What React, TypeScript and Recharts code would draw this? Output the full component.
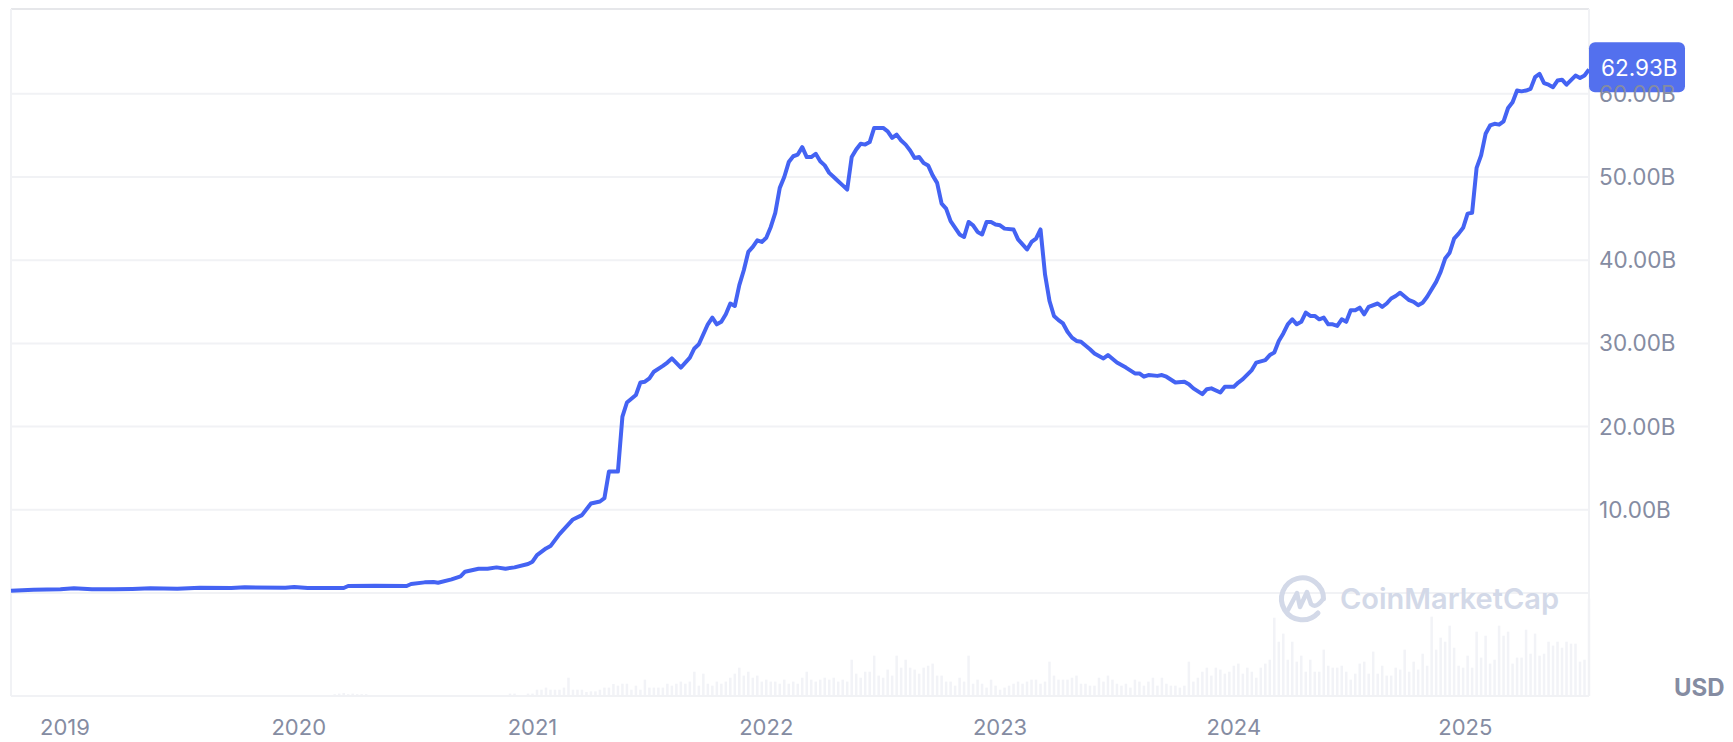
import { ComposedChart, Line, Bar, XAxis, YAxis, CartesianGrid, ReferenceLine, ReferenceDot } from "recharts"

// x values are weeks counted from the left edge of the chart (Oct 2018)
const priceWeeks = [
  0, 5, 11, 14, 18, 23, 27, 31, 37, 42, 49, 52, 61, 63, 66, 74, 75, 81, 88, 89, 92, 94, 95, 98, 100,
  101, 104, 106, 108, 110, 112, 115, 116, 117, 119, 120, 122, 125, 127, 129, 131, 132, 133, 135, 136, 137, 139,
  140, 141, 142, 143, 145, 146, 147, 149, 150, 151, 152, 153, 155, 156, 157, 158, 159, 160, 161, 162, 163, 164,
  165, 166, 167, 168, 169, 170, 171, 172, 173, 174, 175, 176, 177, 178, 179, 180, 181, 182, 183, 184, 185, 186, 187, 188, 189,
  190, 191, 192, 194, 195, 196, 197, 198, 199, 200, 201, 202, 203, 204, 205, 206, 207, 208, 209, 211, 212, 213,
  214, 215, 216, 217, 218, 219, 220, 221, 223, 224, 226, 227, 228, 229, 230, 231, 232, 233, 234, 235, 236, 237,
  238, 240, 241, 243, 244, 246, 248, 250, 251, 252, 253, 255, 256, 257, 259, 261, 262, 263, 265, 266, 267, 269,
  270, 272, 273, 274, 276, 277, 279, 280, 281, 282, 283, 284, 285, 286, 287, 288, 289, 290, 291, 292, 293, 294,
  295, 296, 297, 298, 299, 300, 301, 302, 304, 305, 306, 307, 308, 309, 311, 312, 313, 314, 315, 317, 318, 319,
  320, 321, 322, 323, 324, 325, 326, 327, 328, 329, 330, 331, 332, 333, 334, 335, 336, 337, 338, 339, 340, 341,
  342, 343, 344, 345, 346, 348, 349, 350, 351,
]
const priceValues = [
  0.28, 0.4, 0.44, 0.56, 0.44, 0.44, 0.48, 0.56, 0.52, 0.64, 0.6, 0.68, 0.64, 0.72, 0.6, 0.6, 0.84, 0.88, 0.84, 1.08, 1.28, 1.32, 1.24, 1.64, 2.0,
  2.56, 2.92, 2.92, 3.08, 2.92, 3.08, 3.48, 3.76, 4.56, 5.36, 5.64, 7.08, 8.84, 9.36, 10.76, 11.0, 11.4, 14.6, 14.6, 21.2, 22.9, 23.8,
  25.3, 25.4, 25.8, 26.6, 27.3, 27.7, 28.2, 27.1, 27.7, 28.3, 29.4, 29.9, 32.3, 33.1, 32.3, 32.6, 33.5, 34.8, 34.5, 37, 38.8, 41,
  41.6, 42.4, 42.2, 42.7, 44, 45.7, 48.7, 50, 51.8, 52.5, 52.7, 53.6, 52.4, 52.4, 52.8, 51.9, 51.4, 50.5, 50, 49.5, 49, 48.5, 52.4, 53.3, 54,
  53.9, 54.2, 55.9, 55.9, 55.5, 54.7, 55.1, 54.4, 53.9, 53.2, 52.3, 52.4, 51.7, 51.4, 50.2, 49.3, 46.8, 46.2, 44.7, 43.1, 42.8, 44.6,
  44.2, 43.4, 43.1, 44.6, 44.6, 44.3, 44.2, 43.8, 43.7, 42.5, 41.3, 42.2, 42.6, 43.7, 38.3, 35.1, 33.3, 32.8, 32.4, 31.4, 30.7, 30.3,
  30.2, 29.3, 28.8, 28.2, 28.6, 27.7, 27.1, 26.4, 26.4, 26, 26.2, 26.1, 26.2, 26, 25.3, 25.4, 25.1, 24.6, 23.9, 24.5, 24.6, 24.1,
  24.8, 24.8, 25.3, 25.7, 26.8, 27.7, 28, 28.6, 28.9, 30.3, 31.2, 32.3, 32.9, 32.3, 32.6, 33.7, 33.3, 33.3, 32.9, 33.1, 32.3, 32.3,
  32.1, 32.9, 32.6, 34, 34, 34.3, 33.5, 34.4, 34.8, 34.4, 34.8, 35.4, 35.7, 36.1, 35.2, 35, 34.6, 34.9, 35.6, 37.4, 38.6, 40.2,
  40.9, 42.6, 43.2, 43.9, 45.6, 45.7, 51.1, 52.6, 55.2, 56.2, 56.4, 56.3, 56.7, 58.3, 59, 60.4, 60.3, 60.4, 60.6, 62, 62.4, 61.3,
  61.1, 60.8, 61.6, 61.7, 61.1, 62.2, 61.9, 62.2, 62.93,
]

const earlyVolumeWeeks = [72, 73, 74, 75, 76, 77, 78, 79]
const earlyVolumes = [1.2, 1.6, 2.0, 1.2, 1.6, 1.2, 1.2, 1.2]

const firstVolumeWeek = 111
const volumes = [
  1.6, 1.6, 0, 0, 1.6, 1.6, 4.2, 4.2, 5.6, 4.2, 4.2, 4.2, 5.6, 12.2, 4.2, 4.2, 4.2, 2.7, 3.1, 3.1, 4.2, 5.6, 5.6, 8, 6.9, 8.2, 8.2, 4.2, 6.9, 4.2,
  10.9, 5.6, 5.6, 5.6, 5.6, 8.2, 6.9, 8.2, 9.6, 8.2, 9.6, 16.2, 6.9, 14.9, 8.2, 6.9, 9.6, 8.2, 9.6, 12.2, 14.9, 18.9, 13.6, 16.2, 12.2, 13.6, 9.6, 10.9, 9.6, 9.6,
  8.2, 10.9, 8.2, 9.6, 8.2, 12.2, 16.2, 10.9, 9.6, 10.9, 12.2, 10.9, 12.2, 9.6, 10.9, 9.6, 24.2, 14.9, 12.2, 16.2, 16.2, 26.9, 13.6, 12.2, 17.6, 13.6, 26.9, 18.9, 24.2, 18.9,
  17.6, 14.9, 18.9, 20.2, 21.6, 13.6, 13.6, 9.6, 9.6, 6.9, 12.2, 9.6, 26.9, 8.2, 10.9, 8.2, 5.6, 10.9, 6.9, 4.2, 5.6, 6.9, 8.2, 9.6, 8.2, 9.6, 10.9, 10.9, 8.2, 9.6,
  22.9, 13.6, 10.9, 10.9, 10.9, 12.2, 13.6, 8.2, 8.2, 6.9,
  6.9, 12.2, 9.6, 13.6, 10.9, 8.2, 6.9, 8.2, 5.6, 10.9, 9.6, 6.9, 9.6, 12.2, 6.9, 12.2, 8.2, 6.9, 6.9, 5.6, 6.9, 22.9, 9.6, 12.2, 16.2, 18.9, 13.6, 18.9, 17.6, 14.9,
  16.2, 20.2, 21.6, 14.9, 18.9, 16.2, 12.2, 18.9, 21.6, 24.2, 52.2, 36.2, 41.6, 24.2, 36.2, 22.9, 26.9, 16.2, 24.2, 16.2, 16.2, 30.9, 20.2, 18.9, 18.9, 20.2, 16.2, 10.9, 14.9, 21.6,
  22.9, 14.9, 29.6, 14.9, 20.2, 13.6, 13.6, 18.9, 17.6, 30.9, 16.2, 22.9, 17.6, 28.2, 20.2, 52.9, 30.9, 38.9, 36.2, 46.9, 32.2, 20.2, 18.9, 26.9, 18.9, 42.9, 25.6, 40.2, 21.6,
  24.2, 46.9, 40.2, 42.9, 21.6, 25.6, 25.6, 44.2, 28.2, 41.6, 26.9, 28.2, 36.2, 33.6, 36.2, 32.2, 36.2, 34.9, 34.9, 22.9, 24.2, 24.2,
]
// the newest, still running week stands out at the right edge
const lastVolume = 65

const priceTicks = [0, 10, 20, 30, 40, 50, 60]
const yearTicks = [12, 64, 116, 168, 220, 272, 323.5]
const yearLabels = ["2019", "2020", "2021", "2022", "2023", "2024", "2025"]
const lastPrice = "62.93B"

const FONT = "Inter, sans-serif"
const LABEL = "#858CA2"
const GRID = "#F1F2F5"

const rows: any[] = []
for (let week = 0; week <= 351; week++) {
  const p = priceWeeks.indexOf(week)
  const e = earlyVolumeWeeks.indexOf(week)
  const v = week === 351 ? lastVolume : volumes[week - firstVolumeWeek]
  rows.push({
    week,
    price: p >= 0 ? priceValues[p] : null,
    volume: e >= 0 ? earlyVolumes[e] : v ?? null,
  })
}

function PriceTag(props: any) {
  return (
    <g>
      <rect x={props.cx} y={props.cy - 25} width={96} height={50} rx={6} fill="#5370EE" />
      <text x={props.cx + 12} y={props.cy + 8.5} fontFamily={FONT} fontSize={22.5} fill="#fff">
        {lastPrice}
      </text>
    </g>
  )
}

function Watermark() {
  return (
    <div style={{ position: "absolute", left: 1276, top: 573, width: 300, height: 52 }}>
      <svg width={52} height={52} style={{ position: "absolute", left: 0, top: 0 }}>
        <path d="M 42 40 A 21 21 0 1 1 47.5 26" fill="none" stroke="#D3D9E8" strokeWidth={5} strokeLinecap="round" />
        <path
          d="M 12 37 L 21 20 L 24 34 L 31 19 L 35 31 Q 40 36 47 26"
          fill="none"
          stroke="#D3D9E8"
          strokeWidth={4.5}
          strokeLinejoin="round"
          strokeLinecap="round"
        />
      </svg>
      <div
        style={{
          position: "absolute",
          left: 64,
          top: 7,
          fontFamily: FONT,
          fontWeight: 600,
          fontSize: 29,
          lineHeight: "38px",
          color: "#D3D9E8",
          whiteSpace: "nowrap",
        }}
      >
        CoinMarketCap
      </div>
    </div>
  )
}

export default function App() {
  return (
    <div style={{ position: "absolute", left: 0, top: 0, width: 1733, height: 742, background: "#fff", overflow: "hidden" }}>
      <ComposedChart width={1733} height={742} data={rows} margin={{ top: 9, right: 0, bottom: 0, left: 11 }}>
        <CartesianGrid yAxisId="price" vertical={false} stroke={GRID} strokeWidth={2} />
        <XAxis
          dataKey="week"
          type="number"
          domain={[0, 351]}
          ticks={yearTicks}
          tickFormatter={(w) => yearLabels[yearTicks.indexOf(w)]}
          height={46}
          tickLine={false}
          axisLine={{ stroke: GRID, strokeWidth: 2 }}
          tickMargin={17}
          interval={0}
          tick={{ fill: LABEL, fontSize: 22, fontFamily: FONT }}
        />
        <YAxis
          yAxisId="price"
          orientation="right"
          width={144}
          domain={[-12.38, 70.2]}
          ticks={priceTicks}
          tickFormatter={(v) => (v === 0 ? "" : v.toFixed(2) + "B")}
          interval={0}
          tickLine={false}
          axisLine={false}
          tickMargin={4}
          tick={{ fill: LABEL, fontSize: 22.5, fontFamily: FONT, textAnchor: "start" }}
        />
        <YAxis yAxisId="volume" hide domain={[0, 458]} />
        <ReferenceLine yAxisId="price" y={70.2} stroke="#E6E7EA" strokeWidth={2} />
        <ReferenceLine yAxisId="price" x={0} stroke={GRID} strokeWidth={2} />
        <ReferenceLine yAxisId="price" x={351} stroke={GRID} strokeWidth={2} />
        <Bar yAxisId="volume" dataKey="volume" fill="#F2F3F7" barSize={2.5} isAnimationActive={false} />
        <Line
          yAxisId="price"
          dataKey="price"
          type="linear"
          stroke="#4463F3"
          strokeWidth={4}
          dot={false}
          activeDot={false}
          connectNulls
          strokeLinejoin="round"
          isAnimationActive={false}
        />
        <ReferenceDot yAxisId="price" x={351} y={63.2} ifOverflow="visible" shape={PriceTag} />
      </ComposedChart>
      <Watermark />
      <div style={{ position: "absolute", left: 1674, top: 674, fontFamily: FONT, fontWeight: 700, fontSize: 24, lineHeight: "28px", color: LABEL }}>
        USD
      </div>
    </div>
  )
}
